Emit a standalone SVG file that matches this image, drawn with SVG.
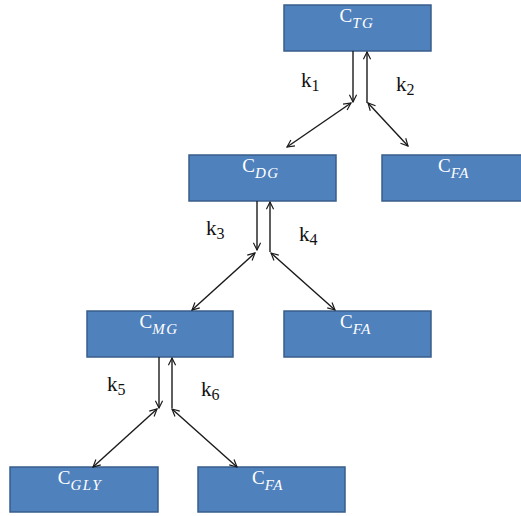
<svg xmlns="http://www.w3.org/2000/svg" width="521" height="516" viewBox="0 0 521 516">
<defs>
<marker id="ah" viewBox="0 0 10 10" refX="9" refY="5" markerWidth="9" markerHeight="9" markerUnits="userSpaceOnUse" orient="auto-start-reverse">
<path d="M1,1 L9,5 L1,9" fill="none" stroke="#1a1a1a" stroke-width="1.3"/>
</marker>
<style>
.box{fill:#4f81bd;stroke:#385d8a;stroke-width:1.5}
.lbl{font-family:"Liberation Serif","DejaVu Serif",serif;font-size:19px;fill:#ffffff;text-anchor:middle}
.sub{font-size:15px;font-style:italic;letter-spacing:1.5px}
.k{font-family:"Liberation Serif","DejaVu Serif",serif;font-size:21px;fill:#111111}
.ks{font-size:16px}
.c{stroke:#1a1a1a;stroke-width:1.4;fill:none}
.one{marker-end:url(#ah)}
.two{marker-start:url(#ah);marker-end:url(#ah)}
</style>
</defs>
<rect width="521" height="516" fill="#ffffff"/>
<g id="node-tg"><rect class="box" x="284" y="5" width="147" height="46"/><text class="lbl" x="357" y="22">C<tspan class="sub" dy="6">TG</tspan></text></g>
<g id="node-dg"><rect class="box" x="189" y="155" width="147" height="46"/><text class="lbl" x="261" y="172">C<tspan class="sub" dy="6">DG</tspan></text></g>
<g id="node-fa1"><rect class="box" x="382" y="155" width="147" height="46"/><text class="lbl" x="454" y="172">C<tspan class="sub" dy="6">FA</tspan></text></g>
<g id="node-mg"><rect class="box" x="87" y="311" width="146" height="46"/><text class="lbl" x="159" y="328">C<tspan class="sub" dy="6">MG</tspan></text></g>
<g id="node-fa2"><rect class="box" x="284" y="311" width="147" height="46"/><text class="lbl" x="356" y="328">C<tspan class="sub" dy="6">FA</tspan></text></g>
<g id="node-gly"><rect class="box" x="10" y="467" width="148" height="45"/><text class="lbl" x="80" y="484">C<tspan class="sub" dy="6">GLY</tspan></text></g>
<g id="node-fa3"><rect class="box" x="198" y="467" width="147" height="45"/><text class="lbl" x="268" y="484">C<tspan class="sub" dy="6">FA</tspan></text></g>
<g id="connectors">
<line class="c one" x1="353" y1="51" x2="353" y2="102"/>
<line class="c one" x1="367" y1="103" x2="367" y2="52"/>
<line class="c two" x1="351" y1="103" x2="287" y2="147"/>
<line class="c two" x1="368" y1="103" x2="408" y2="146"/>
<line class="c one" x1="257" y1="201" x2="257" y2="250"/>
<line class="c one" x1="270" y1="252" x2="270" y2="202"/>
<line class="c two" x1="255" y1="253" x2="192" y2="310"/>
<line class="c two" x1="271" y1="253" x2="335" y2="310"/>
<line class="c one" x1="159" y1="357" x2="159" y2="408"/>
<line class="c one" x1="172" y1="408" x2="172" y2="358"/>
<line class="c two" x1="157" y1="409" x2="93" y2="467"/>
<line class="c two" x1="172" y1="409" x2="237" y2="467"/>
</g>
<g id="labels">
<text class="k" x="301" y="87">k<tspan class="ks" dy="4">1</tspan></text>
<text class="k" x="396" y="91">k<tspan class="ks" dy="4">2</tspan></text>
<text class="k" x="206" y="235">k<tspan class="ks" dy="4">3</tspan></text>
<text class="k" x="299" y="241">k<tspan class="ks" dy="4">4</tspan></text>
<text class="k" x="107" y="391">k<tspan class="ks" dy="4">5</tspan></text>
<text class="k" x="201" y="396">k<tspan class="ks" dy="4">6</tspan></text>
</g>
</svg>
